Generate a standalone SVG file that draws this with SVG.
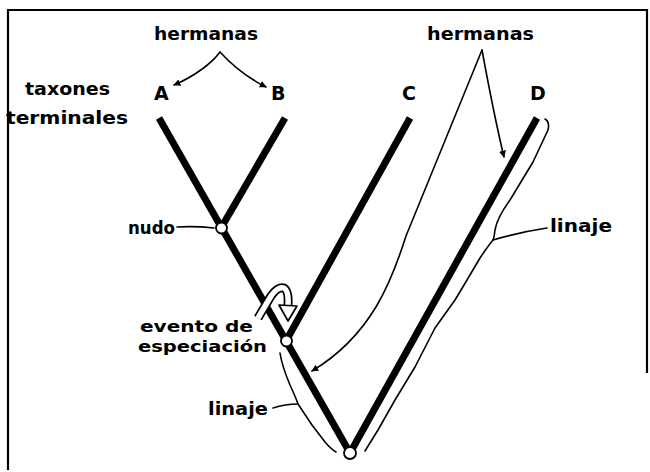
<svg xmlns="http://www.w3.org/2000/svg" width="650" height="472" viewBox="0 0 650 472">
<defs>
<style>
.lbl{font-family:"DejaVu Sans","Liberation Sans",sans-serif;font-weight:bold;font-size:17px;fill:#000}
.cap{font-size:19px}
.sm{font-size:16px}
.br{stroke:#000;stroke-width:7;stroke-linecap:butt;fill:none}
.thin{stroke:#000;stroke-width:1.6;fill:none;stroke-linecap:round;stroke-linejoin:round}
.frame{stroke:#000;stroke-width:2.2;fill:none}
.node{fill:#fff;stroke:#000;stroke-width:1.8}
</style>
<marker id="ah" viewBox="0 0 10 10" refX="9" refY="5" markerWidth="7" markerHeight="7" markerUnits="userSpaceOnUse" orient="auto">
<path d="M0,0 L10,5 L0,10 z" fill="#000"/>
</marker>
</defs>
<rect width="650" height="472" fill="#fff"/>
<g id="frame">
<path class="frame" d="M8,470 L8,10 L647,10 L647,373"/>
</g>
<g id="connectors">
<line class="br" x1="159" y1="118" x2="350" y2="453"/>
<line class="br" x1="285" y1="118" x2="221" y2="228"/>
<line class="br" x1="410" y1="118" x2="286" y2="341"/>
<line class="br" x1="537" y1="118" x2="350" y2="453"/>
<path class="thin" d="M220,52 C212,63 195,76 174,85" marker-end="url(#ah)"/>
<path class="thin" d="M220,52 C230,63 246,77 266,87" marker-end="url(#ah)"/>
<path class="thin" d="M482,50 C489,88 497,128 504,157" marker-end="url(#ah)"/>
<path class="thin" d="M482,50 L406,236 C392,280 372,335 312,371" marker-end="url(#ah)"/>
<path class="thin" d="M177,227 Q196,226 214,228"/>
<path class="thin" d="M545,119 Q550,122 548,130 L533,162 L510,200 Q497,218 495,230 Q494,238 493,240 Q488,246 480,258 L467,280 L455,300 L435,328 L415,367 L395,400 L378,430 L365,451"/>
<path class="thin" d="M493,240 Q520,232 547,228"/>
<path class="thin" d="M280,353 Q282,366 290,385 Q296,398 298,404 Q302,410 312,425 L325,442 Q331,449 336,452"/>
<path class="thin" d="M298,404 Q285,404 273,408"/>
<g id="speciation-arrow">
<path d="M258,318 L271,296 Q278,286 284,288 Q289,291 288,306" fill="none" stroke="#000" stroke-width="9"/>
<path d="M258,318 L271,296 Q278,286 284,288 Q289,291 288,306" fill="none" stroke="#fff" stroke-width="5.5"/>
<path d="M279,305 L297,306 L288,321 z" fill="#fff" stroke="#000" stroke-width="1.7" stroke-linejoin="round"/>
</g>
</g>
<g id="node-nudo"><circle class="node" cx="221.5" cy="228" r="5.5"/></g>
<g id="node-especiacion"><circle class="node" cx="286.5" cy="341" r="5.5"/></g>
<g id="node-raiz"><circle class="node" cx="350" cy="453" r="6"/></g>
<g id="taxon-A"><text class="lbl cap" x="154" y="100">A</text></g>
<g id="taxon-B"><text class="lbl cap" x="271" y="100">B</text></g>
<g id="taxon-C"><text class="lbl cap" x="402" y="100">C</text></g>
<g id="taxon-D"><text class="lbl cap" x="530" y="100">D</text></g>
<g id="labels">
<text class="lbl" x="154" y="40" textLength="104" lengthAdjust="spacingAndGlyphs">hermanas</text>
<text class="lbl" x="427" y="40" textLength="107" lengthAdjust="spacingAndGlyphs">hermanas</text>
<text class="lbl" x="25" y="95" textLength="85" lengthAdjust="spacingAndGlyphs">taxones</text>
<text class="lbl" x="6" y="124" textLength="122" lengthAdjust="spacingAndGlyphs">terminales</text>
<text class="lbl" x="128" y="234" textLength="47" lengthAdjust="spacingAndGlyphs">nudo</text>
<text class="lbl" x="550" y="232" textLength="62" lengthAdjust="spacingAndGlyphs">linaje</text>
<text class="lbl sm" x="140" y="332" textLength="113" lengthAdjust="spacingAndGlyphs">evento de</text>
<text class="lbl sm" x="138" y="352" textLength="129" lengthAdjust="spacingAndGlyphs">especiación</text>
<text class="lbl" x="208" y="415" textLength="60" lengthAdjust="spacingAndGlyphs">linaje</text>
</g>
</svg>
